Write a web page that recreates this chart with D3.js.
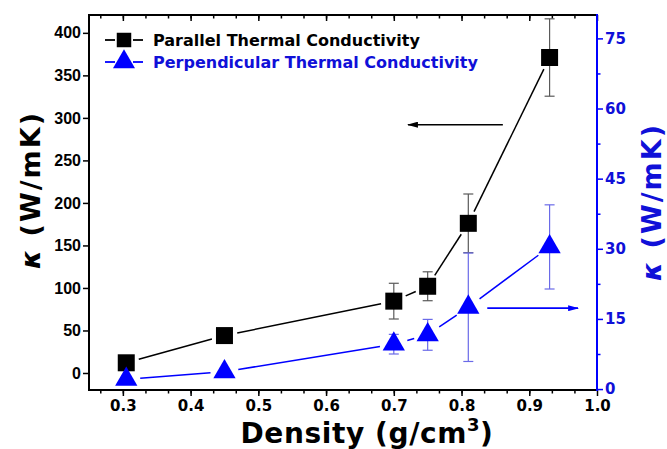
<!DOCTYPE html>
<html>
<head>
<meta charset="utf-8">
<script src="https://cdn.jsdelivr.net/npm/d3@7"></script>
<style>
  body { margin: 0; background: #fff; }
  svg { display: block; }
</style>
</head>
<body>
<svg id="chart" width="667" height="449"></svg>
<script>
'use strict';

// data
var density = [0.305, 0.45, 0.70, 0.75, 0.81, 0.93];
var parallel = [12, 44, 84.5, 102, 176, 371];
var parallelErr = [0, 0, 21, 17, 34.5, 45.5];
var perpendicular = [2.1, 3.7, 9.6, 11.6, 17.5, 30.4];
var perpendicularErr = [0, 0, 2.1, 3.3, 11.6, 9];

var xTicks = [0.3, 0.4, 0.5, 0.6, 0.7, 0.8, 0.9, 1.0];
var leftTicks = [0, 50, 100, 150, 200, 250, 300, 350, 400];
var rightTicks = [0, 15, 30, 45, 60, 75];

var legendLabels = ['Parallel Thermal Conductivity', 'Perpendicular Thermal Conductivity'];

// arrows pointing at the axis each series belongs to: [x from, x to, value]
var leftArrow = [0.861, 0.721, 292];
var rightArrow = [0.838, 0.972, 17.3];

var BLUE = '#0000ff';
var BLUE_TEXT = '#1010d8';

var svg = d3.select('#chart');

var plotLeft = 89, plotRight = 597, plotTop = 15, plotBottom = 390;

var x = d3.scaleLinear().domain([0.25, 1.0]).range([plotLeft, plotRight]);
var yL = d3.scaleLinear().domain([-20, 421]).range([plotBottom, plotTop]);
var yR = d3.scaleLinear().domain([-0.2, 80]).range([plotBottom, plotTop]);

var minorX = d3.range(0, 23).map(function (i) { return 0.3 - 1 / 30 + i / 30; })
  .filter(function (v) { return v > 0.251 && v < 0.999; });
var minorR = d3.range(0, 11).map(function (i) { return 7.5 + i * 15; })
  .filter(function (v) { return v < 80; });

var axisFont = 'DejaVu Sans, Verdana, sans-serif';

function styleAxis(g, color) {
  g.select('.domain').remove();
  g.selectAll('.tick line').attr('stroke', color).attr('stroke-width', 1.5);
  g.selectAll('.tick text').attr('fill', color).attr('font-weight', 'bold');
}

// bottom axis
var gx = svg.append('g').attr('transform', 'translate(0,' + plotBottom + ')')
  .call(d3.axisBottom(x).tickValues(xTicks).tickSize(6).tickPadding(4)
    .tickFormat(d3.format('.1f')));
styleAxis(gx, '#000');
gx.selectAll('.tick text').attr('font-family', axisFont).attr('font-size', 15);

var gxm = svg.append('g').attr('transform', 'translate(0,' + plotBottom + ')')
  .call(d3.axisBottom(x).tickValues(minorX).tickSize(3.5).tickFormat(''));
styleAxis(gxm, '#000');

// top axis, ticks inward
var gt = svg.append('g').attr('transform', 'translate(0,' + plotTop + ')')
  .call(d3.axisTop(x).tickValues(xTicks).tickSize(-6).tickFormat(''));
styleAxis(gt, '#000');
var gtm = svg.append('g').attr('transform', 'translate(0,' + plotTop + ')')
  .call(d3.axisTop(x).tickValues(minorX).tickSize(-3.5).tickFormat(''));
styleAxis(gtm, '#000');

// left axis
var gl = svg.append('g').attr('transform', 'translate(' + plotLeft + ',0)')
  .call(d3.axisLeft(yL).tickValues(leftTicks).tickSize(6).tickPadding(2));
styleAxis(gl, '#000');
gl.selectAll('.tick text').attr('font-family', 'Liberation Sans, Arial, sans-serif')
  .attr('font-size', 16);

// right axis
var gr = svg.append('g').attr('transform', 'translate(' + plotRight + ',0)')
  .call(d3.axisRight(yR).tickValues(rightTicks).tickSize(6).tickPadding(2));
styleAxis(gr, BLUE);
gr.selectAll('.tick text').attr('font-family', axisFont).attr('font-size', 15)
  .attr('fill', BLUE_TEXT);
var grm = svg.append('g').attr('transform', 'translate(' + plotRight + ',0)')
  .call(d3.axisRight(yR).tickValues(minorR).tickSize(3.5).tickFormat(''));
styleAxis(grm, BLUE);

// frame
svg.append('path')
  .attr('d', 'M' + plotRight + ',' + plotTop + 'H' + plotLeft + 'V' + plotBottom + 'H' + plotRight)
  .attr('fill', 'none').attr('stroke', '#000').attr('stroke-width', 2);
svg.append('line')
  .attr('x1', plotRight).attr('x2', plotRight).attr('y1', plotTop - 1).attr('y2', plotBottom + 1)
  .attr('stroke', BLUE).attr('stroke-width', 2);

// axis titles
var xTitle = svg.append('text')
  .attr('transform', 'translate(367,443)')
  .attr('text-anchor', 'middle')
  .attr('font-family', axisFont).attr('font-weight', 'bold').attr('font-size', 28)
  .attr('letter-spacing', 0.6);
xTitle.append('tspan').text('Density (g/cm');
xTitle.append('tspan').attr('font-size', 18).attr('dy', -12).text('3');
xTitle.append('tspan').attr('dy', 12).text(')');

function kappaTitle(tx, ty, color) {
  var t = svg.append('text')
    .attr('transform', 'translate(' + tx + ',' + ty + ') rotate(-90)')
    .attr('text-anchor', 'middle')
    .attr('fill', color)
    .attr('font-family', axisFont).attr('font-weight', 'bold').attr('font-size', 27)
    .attr('letter-spacing', 2);
  t.append('tspan').attr('font-style', 'italic').text('\u03ba');
  t.append('tspan').text(' (W/mK)');
}
kappaTitle(40, 190, '#000');
kappaTitle(661, 202, BLUE_TEXT);

// series
var par = density.map(function (d, i) {
  return { x: x(d), y: yL(parallel[i]), hi: yL(parallel[i] + parallelErr[i]),
    lo: yL(parallel[i] - parallelErr[i]), err: parallelErr[i] };
});
var per = density.map(function (d, i) {
  return { x: x(d), y: yR(perpendicular[i]), hi: yR(perpendicular[i] + perpendicularErr[i]),
    lo: yR(perpendicular[i] - perpendicularErr[i]), err: perpendicularErr[i] };
});

function gappedSegments(pts, gap) {
  var segs = [];
  for (var i = 1; i < pts.length; i++) {
    var a = pts[i - 1], b = pts[i];
    var dx = b.x - a.x, dy = b.y - a.y;
    var len = Math.sqrt(dx * dx + dy * dy);
    if (len <= 2 * gap) continue;
    var ux = dx / len, uy = dy / len;
    segs.push({ x1: a.x + ux * gap, y1: a.y + uy * gap, x2: b.x - ux * gap, y2: b.y - uy * gap });
  }
  return segs;
}

function drawErrors(pts, color) {
  var g = svg.append('g').attr('stroke', color).attr('stroke-width', 1.2);
  var withErr = pts.filter(function (d) { return d.err > 0; });
  g.selectAll('line.v').data(withErr).enter().append('line')
    .attr('x1', function (d) { return d.x; }).attr('x2', function (d) { return d.x; })
    .attr('y1', function (d) { return d.hi; }).attr('y2', function (d) { return d.lo; });
  g.selectAll('line.hi').data(withErr).enter().append('line')
    .attr('x1', function (d) { return d.x - 5; }).attr('x2', function (d) { return d.x + 5; })
    .attr('y1', function (d) { return d.hi; }).attr('y2', function (d) { return d.hi; });
  g.selectAll('line.lo').data(withErr).enter().append('line')
    .attr('x1', function (d) { return d.x - 5; }).attr('x2', function (d) { return d.x + 5; })
    .attr('y1', function (d) { return d.lo; }).attr('y2', function (d) { return d.lo; });
}

function drawLines(pts, color, gap) {
  svg.append('g').selectAll('line').data(gappedSegments(pts, gap)).enter().append('line')
    .attr('x1', function (d) { return d.x1; }).attr('y1', function (d) { return d.y1; })
    .attr('x2', function (d) { return d.x2; }).attr('y2', function (d) { return d.y2; })
    .attr('stroke', color).attr('stroke-width', 1.5);
}

drawErrors(par, '#5a5a5a');
drawErrors(per, '#6a6ae8');
drawLines(par, '#000', 13);
drawLines(per, BLUE, 14);

var square = d3.symbol().type(d3.symbolSquare).size(289);
var triangle = d3.symbol().type(d3.symbolTriangle).size(215);

svg.append('g').selectAll('path').data(par).enter().append('path')
  .attr('d', square)
  .attr('transform', function (d) { return 'translate(' + d.x + ',' + d.y + ')'; })
  .attr('fill', '#000');

svg.append('g').selectAll('path').data(per).enter().append('path')
  .attr('d', triangle)
  .attr('transform', function (d) { return 'translate(' + d.x + ',' + d.y + ')'; })
  .attr('fill', BLUE);

// arrows
var defs = svg.append('defs');
function marker(id, color) {
  defs.append('marker').attr('id', id)
    .attr('viewBox', '0 0 10 10').attr('refX', 9).attr('refY', 5)
    .attr('markerWidth', 11).attr('markerHeight', 6).attr('markerUnits', 'userSpaceOnUse')
    .attr('orient', 'auto').attr('preserveAspectRatio', 'none')
    .append('path').attr('d', 'M0,0L10,5L0,10Z').attr('fill', color);
}
marker('arrowBlack', '#000');
marker('arrowBlue', BLUE);

svg.append('line')
  .attr('x1', x(leftArrow[0])).attr('x2', x(leftArrow[1]))
  .attr('y1', yL(leftArrow[2])).attr('y2', yL(leftArrow[2]))
  .attr('stroke', '#000').attr('stroke-width', 1.6)
  .attr('marker-end', 'url(#arrowBlack)');

svg.append('line')
  .attr('x1', x(rightArrow[0])).attr('x2', x(rightArrow[1]))
  .attr('y1', yR(rightArrow[2])).attr('y2', yR(rightArrow[2]))
  .attr('stroke', BLUE).attr('stroke-width', 1.6)
  .attr('marker-end', 'url(#arrowBlue)');

// legend
var legend = svg.append('g').attr('transform', 'translate(105,40)');
var rows = legend.selectAll('g').data(legendLabels).enter().append('g')
  .attr('transform', function (d, i) { return 'translate(0,' + i * 22 + ')'; });
rows.append('line').attr('x1', 0).attr('x2', 10).attr('y1', 0).attr('y2', 0)
  .attr('stroke', function (d, i) { return i ? BLUE : '#000'; }).attr('stroke-width', 1.8);
rows.append('line').attr('x1', 28).attr('x2', 38).attr('y1', 0).attr('y2', 0)
  .attr('stroke', function (d, i) { return i ? BLUE : '#000'; }).attr('stroke-width', 1.8);
rows.append('path')
  .attr('d', function (d, i) {
    return i ? d3.symbol().type(d3.symbolTriangle).size(210)()
      : d3.symbol().type(d3.symbolSquare).size(210)();
  })
  .attr('transform', 'translate(19,0)')
  .attr('fill', function (d, i) { return i ? BLUE : '#000'; });
rows.append('text')
  .attr('x', 48).attr('y', 6)
  .attr('font-family', axisFont).attr('font-weight', 'bold').attr('font-size', 16)
  .attr('fill', function (d, i) { return i ? BLUE_TEXT : '#000'; })
  .text(function (d) { return d; });
</script>
</body>
</html>
